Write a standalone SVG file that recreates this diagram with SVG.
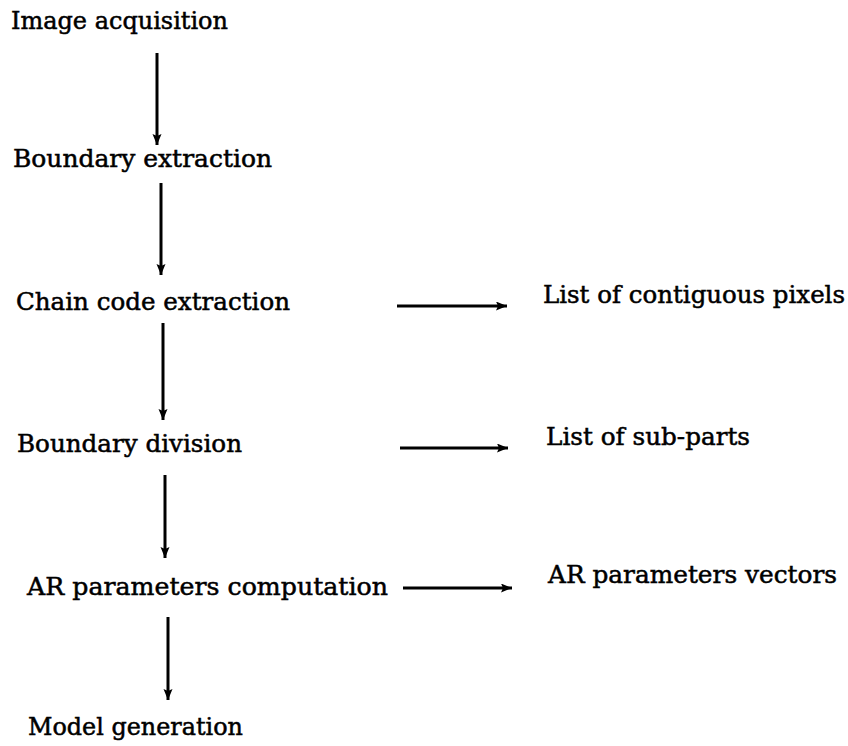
<svg xmlns="http://www.w3.org/2000/svg" width="848" height="746" viewBox="0 0 848 746">
<style>
text{font-family:"DejaVu Serif","Liberation Serif",serif;font-size:23.5px;fill:#000;stroke:#000;stroke-width:0.5}
.c{stroke:#000;stroke-width:3;fill:none;marker-end:url(#ah)}
</style>
<defs>
<marker id="ah" markerUnits="userSpaceOnUse" markerWidth="13" markerHeight="10" refX="11" refY="4.5" orient="auto">
<path d="M0,0 L11,4.5 L0,9 L2,4.5 Z" fill="#000"/>
</marker>
</defs>
<rect width="848" height="746" fill="#fff"/>
<g id="connectors">
<line class="c" x1="157" y1="53" x2="157" y2="145"/>
<line class="c" x1="161" y1="183" x2="161" y2="275"/>
<line class="c" x1="163" y1="323" x2="163" y2="420"/>
<line class="c" x1="165" y1="475" x2="165" y2="558"/>
<line class="c" x1="168" y1="617" x2="168" y2="700"/>
<line class="c" x1="397" y1="306" x2="507" y2="306"/>
<line class="c" x1="400" y1="448" x2="508" y2="448"/>
<line class="c" x1="403" y1="588" x2="512" y2="588"/>
</g>
<g id="n1"><text x="11" y="29" textLength="217" lengthAdjust="spacingAndGlyphs">Image acquisition</text></g>
<g id="n2"><text x="13" y="167" textLength="259" lengthAdjust="spacingAndGlyphs">Boundary extraction</text></g>
<g id="n3"><text x="16" y="310" textLength="274" lengthAdjust="spacingAndGlyphs">Chain code extraction</text></g>
<g id="n4"><text x="543" y="303" textLength="302" lengthAdjust="spacingAndGlyphs">List of contiguous pixels</text></g>
<g id="n5"><text x="17" y="452" textLength="225" lengthAdjust="spacingAndGlyphs">Boundary division</text></g>
<g id="n6"><text x="546" y="445" textLength="204" lengthAdjust="spacingAndGlyphs">List of sub-parts</text></g>
<g id="n7"><text x="27" y="595" textLength="361" lengthAdjust="spacingAndGlyphs">AR parameters computation</text></g>
<g id="n8"><text x="548" y="583" textLength="289" lengthAdjust="spacingAndGlyphs">AR parameters vectors</text></g>
<g id="n9"><text x="28" y="735" textLength="215" lengthAdjust="spacingAndGlyphs">Model generation</text></g>
</svg>
